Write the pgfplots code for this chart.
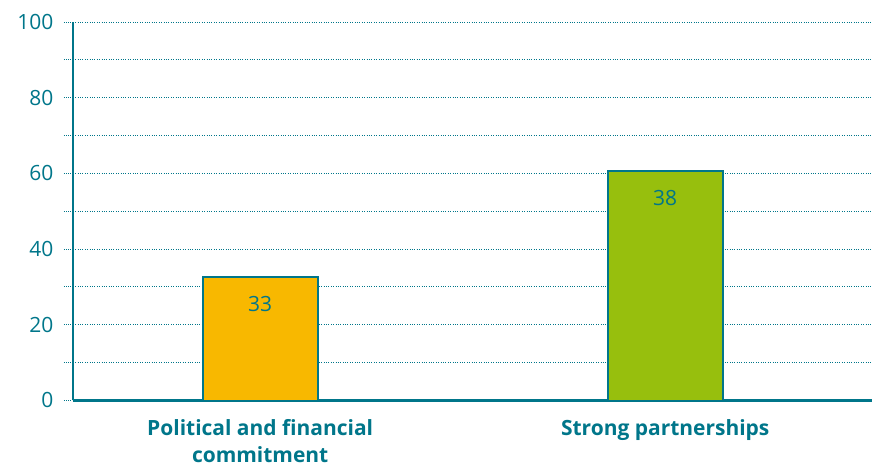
\documentclass[border=0pt]{standalone}
\usepackage{fontspec}
\setmainfont{Open Sans}
\usepackage{pgfplots}
\pgfplotsset{compat=1.18}
\definecolor{axteal}{HTML}{00768A}
\definecolor{baryellow}{HTML}{F8B800}
\definecolor{bargreen}{HTML}{97BF0D}

\begin{document}
\begin{tikzpicture}
\begin{axis}[
    scale only axis,
    width=800bp, height=379bp,
    xmin=-0.4624, xmax=1.51,
    ymin=0, ymax=100,
    clip=false,
    axis x line=bottom, axis y line=left,
    axis line style={-, draw=axteal, line width=2.4bp},
    ytick={0,10,...,100},
    yticklabels={0,,20,,40,,60,,80,,100},
    ymajorgrids,
    grid style={axteal, dotted, line width=0.9bp},
    tick align=outside,
    major tick length=9bp,
    major y tick style={axteal, dotted, line width=0.9bp},
    major x tick style={draw=none},
    xtick={0,1},
    xticklabels={Political and financial\\commitment, Strong partnerships},
    xticklabel style={align=center, text=axteal, font=\fontsize{21bp}{27bp}\selectfont\bfseries, yshift=-7bp},
    yticklabel style={text=axteal, font=\fontsize{21bp}{24bp}\selectfont, xshift=-7bp},
    /pgf/number format/assume math mode=true,
    nodes near coords,
    point meta=explicit symbolic,
    every node near coord/.append style={anchor=north, yshift=-15bp, text=axteal, font=\fontsize{21bp}{24bp}\selectfont},
    bar width=0.2836,
]
\addplot[ybar, bar shift=0pt, fill=baryellow, draw=axteal, line width=1.8bp]
    table[meta=lab] {
x y lab
0 32.7 33
};
\addplot[ybar, bar shift=0pt, fill=bargreen, draw=axteal, line width=1.8bp]
    table[meta=lab] {
x y lab
1 60.6 38
};
\path (rel axis cs:0,1) ++(-73bp,22bp);
\path (rel axis cs:0,0) ++(0,-67bp);
\end{axis}
\end{tikzpicture}
\end{document}
